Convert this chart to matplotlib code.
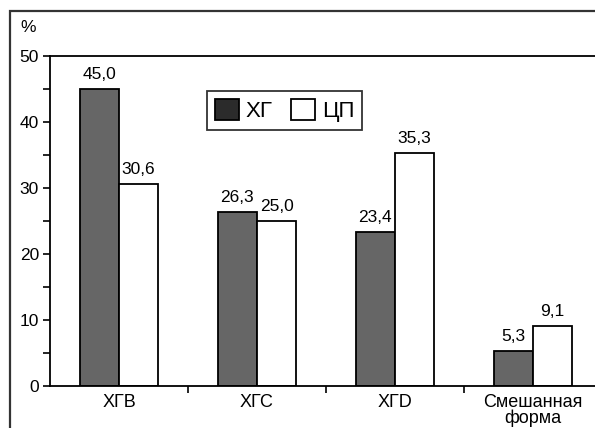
import matplotlib
matplotlib.use("Agg")
from matplotlib import pyplot as plt
from matplotlib.patches import Rectangle, Patch
import numpy as np

plt.rcParams['font.family'] = ['Liberation Sans', 'DejaVu Sans']

categories = ["ХГВ", "ХГС", "ХГD", "Смешанная\nформа"]
hg_values = [45.0, 26.3, 23.4, 5.3]
cp_values = [30.6, 25.0, 35.3, 9.1]
series_names = ["ХГ", "ЦП"]

def fmt(v):
    return ("%.1f" % v).replace(".", ",")

fig = plt.figure(figsize=(5.95, 4.28), dpi=100)

# outer frame around the whole chart
fig.patches.append(Rectangle((10 / 595, -0.1), 1.2, 1.1 - 11 / 428,
                             transform=fig.transFigure, fill=False,
                             edgecolor="#333333", linewidth=1.6))

ax = fig.add_axes([50 / 595, 42 / 428, 552 / 595, 330 / 428])
x = np.arange(len(categories))
w = 0.285

ax.bar(x - w / 2, hg_values, w, color="#666666", edgecolor="black", linewidth=1.3)
ax.bar(x + w / 2, cp_values, w, color="white", edgecolor="black", linewidth=1.3)

for xi, v in zip(x - w / 2, hg_values):
    ax.annotate(fmt(v), (xi, v), xytext=(0, 5), textcoords="offset points",
                ha="center", va="bottom", fontsize=12.5)
for xi, v in zip(x + w / 2, cp_values):
    ax.annotate(fmt(v), (xi, v), xytext=(0, 5), textcoords="offset points",
                ha="center", va="bottom", fontsize=12.5)

ax.set_xlim(-0.5, 3.5)
ax.set_ylim(0, 50)
ax.set_yticks(np.arange(0, 51, 10))
ax.set_yticks(np.arange(5, 50, 10), minor=True)
ax.set_xticks(x)
ax.set_xticklabels(categories, fontsize=13, linespacing=0.85)
ax.set_xticks(np.arange(0.5, 3.5, 1), minor=True)
ax.tick_params(axis="x", which="major", length=0, pad=6)
ax.tick_params(axis="x", which="minor", length=5, width=1.2, direction="out")
ax.tick_params(axis="y", which="both", length=5, width=1.2, direction="out",
               labelsize=12.5, pad=3)
for s in ax.spines.values():
    s.set_linewidth(1.3)
    s.set_color("black")

fig.text(20 / 595, 1 - 28 / 428, "%", fontsize=12.5, ha="left", va="center")

handles = [Patch(facecolor="#2b2b2b", edgecolor="black", linewidth=1.3),
           Patch(facecolor="white", edgecolor="black", linewidth=1.3)]
leg = ax.legend(handles, series_names, loc="upper left",
                bbox_to_anchor=(157 / 552, 1 - 35 / 330), ncol=2,
                fontsize=16, frameon=True, fancybox=False, handlelength=1.1,
                handleheight=1.1, handletextpad=0.3, columnspacing=0.8,
                borderpad=0.35, borderaxespad=0)
leg.get_frame().set_edgecolor("black")
leg.get_frame().set_linewidth(1.3)

fig.savefig("out.png", dpi=100)
